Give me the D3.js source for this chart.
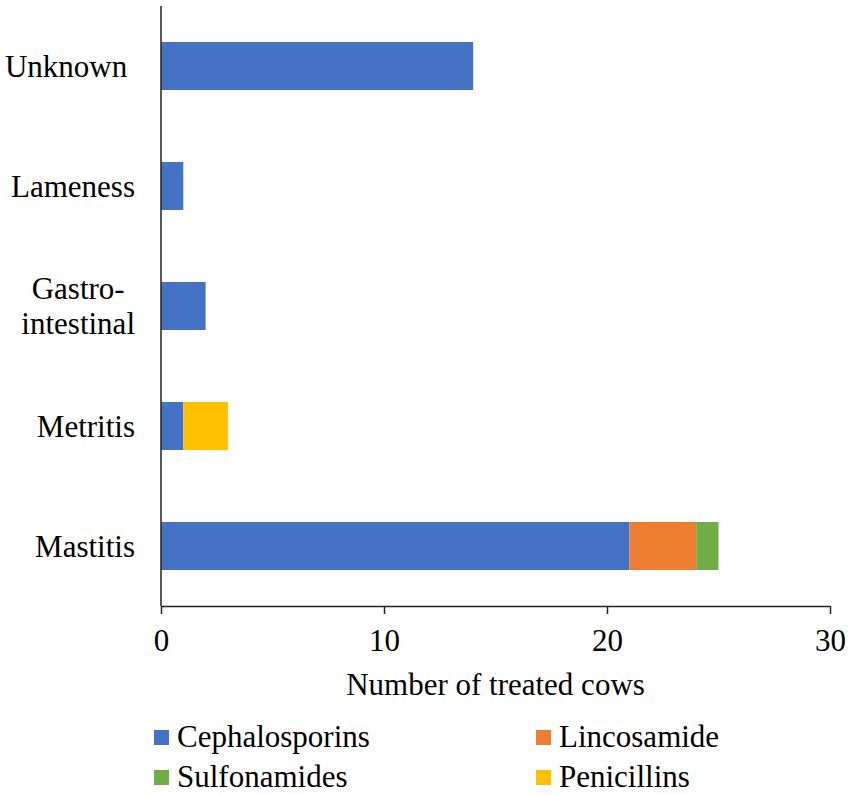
<!DOCTYPE html>
<html lang="en">
<head>
  <meta charset="UTF-8">
  <title>Number of treated cows by disease</title>
  <script src="https://d3js.org/d3.v7.min.js"></script>
  <style>
    body { margin: 0; background: #fff; }
  </style>
</head>
<body>
  <svg id="chart" width="851" height="795"></svg>

  <script>
    // Data (top to bottom)
    const categories = ['Unknown', 'Lameness', 'Gastro-intestinal', 'Metritis', 'Mastitis'];
    const seriesNames = ['Cephalosporins', 'Lincosamide', 'Sulfonamides', 'Penicillins'];
    const cephalosporins = [14, 1, 2, 1, 21];
    const lincosamide = [0, 0, 0, 0, 3];
    const sulfonamides = [0, 0, 0, 0, 1];
    const penicillins = [0, 0, 0, 2, 0];
    const xTicks = [0, 10, 20, 30];
    const colors = ['#4472C4', '#ED7D31', '#70AD47', '#FFC000'];

    // how the category labels are printed (the original has a trailing space on "Unknown")
    const labelLines = {
      'Unknown': ['Unknown\u00A0'],
      'Gastro-intestinal': ['Gastro-', 'intestinal']
    };

    const svg = d3.select('#chart');
    const fontFamily = '"Liberation Serif", "Times New Roman", serif';
    const fontSize = 31;

    // plot area
    const plotLeft = 161, plotRight = 830, plotTop = 6, plotBottom = 606;

    const x = d3.scaleLinear().domain([0, 30]).range([plotLeft, plotRight]);
    const y = d3.scaleBand()
      .domain(categories)
      .range([plotTop, plotBottom])
      .paddingInner(0.6)
      .paddingOuter(0.3);

    // build rows for d3.stack
    const valuesBySeries = [cephalosporins, lincosamide, sulfonamides, penicillins];
    const rows = categories.map((c, i) => {
      const r = { category: c };
      seriesNames.forEach((s, j) => { r[s] = valuesBySeries[j][i]; });
      return r;
    });
    const stacked = d3.stack().keys(seriesNames)(rows);

    const color = d3.scaleOrdinal().domain(seriesNames).range(colors);

    // bars
    svg.append('g')
      .selectAll('g')
      .data(stacked)
      .join('g')
        .attr('fill', d => color(d.key))
      .selectAll('rect')
      .data(d => d.filter(p => p[1] - p[0] > 0))
      .join('rect')
        .attr('x', d => x(d[0]))
        .attr('y', d => y(d.data.category))
        .attr('width', d => x(d[1]) - x(d[0]))
        .attr('height', y.bandwidth());

    // x axis
    const xAxis = svg.append('g')
      .attr('transform', `translate(0,${plotBottom})`)
      .call(d3.axisBottom(x).tickValues(xTicks).tickSize(8).tickSizeOuter(0).tickPadding(15));
    xAxis.select('.domain').attr('stroke', '#222').attr('stroke-width', 1.5);
    xAxis.selectAll('.tick line').attr('stroke', '#222').attr('stroke-width', 1.5);
    xAxis.selectAll('.tick text')
      .style('font-family', fontFamily)
      .style('font-size', fontSize + 'px')
      .attr('fill', '#000');

    // y axis line (no ticks)
    svg.append('line')
      .attr('x1', plotLeft).attr('x2', plotLeft)
      .attr('y1', plotTop).attr('y2', plotBottom)
      .attr('stroke', '#222').attr('stroke-width', 1.5);

    // category labels: right edge at labelRight, multi-line labels centred on each other
    const labelRight = 135;
    const lineHeight = 35;
    categories.forEach(c => {
      const cy = y(c) + y.bandwidth() / 2;
      const lines = labelLines[c] || [c];
      const ts = lines.map((l, i) => svg.append('text')
        .attr('y', cy + (i - (lines.length - 1) / 2) * lineHeight)
        .attr('dy', '0.35em')
        .attr('text-anchor', 'middle')
        .attr('fill', '#000')
        .style('font-family', fontFamily)
        .style('font-size', fontSize + 'px')
        .style('white-space', 'pre')
        .text(l));
      const maxW = d3.max(ts, t => t.node().getComputedTextLength());
      ts.forEach(t => t.attr('x', labelRight - maxW / 2));
    });

    // axis title
    svg.append('text')
      .attr('x', (plotLeft + plotRight) / 2)
      .attr('y', 695)
      .attr('text-anchor', 'middle')
      .attr('fill', '#000')
      .style('font-family', fontFamily)
      .style('font-size', fontSize + 'px')
      .text('Number of treated cows');

    // legend, two columns
    const legendPos = [[154, 747], [536, 747], [154, 787], [536, 787]];
    const legend = svg.append('g')
      .selectAll('g')
      .data(seriesNames)
      .join('g')
        .attr('transform', (d, i) => `translate(${legendPos[i][0]},${legendPos[i][1]})`);
    legend.append('rect')
      .attr('x', 0).attr('y', -17)
      .attr('width', 15).attr('height', 15)
      .attr('fill', d => color(d));
    legend.append('text')
      .attr('x', 23)
      .attr('fill', '#000')
      .style('font-family', fontFamily)
      .style('font-size', fontSize + 'px')
      .text(d => d);
  </script>
</body>
</html>
